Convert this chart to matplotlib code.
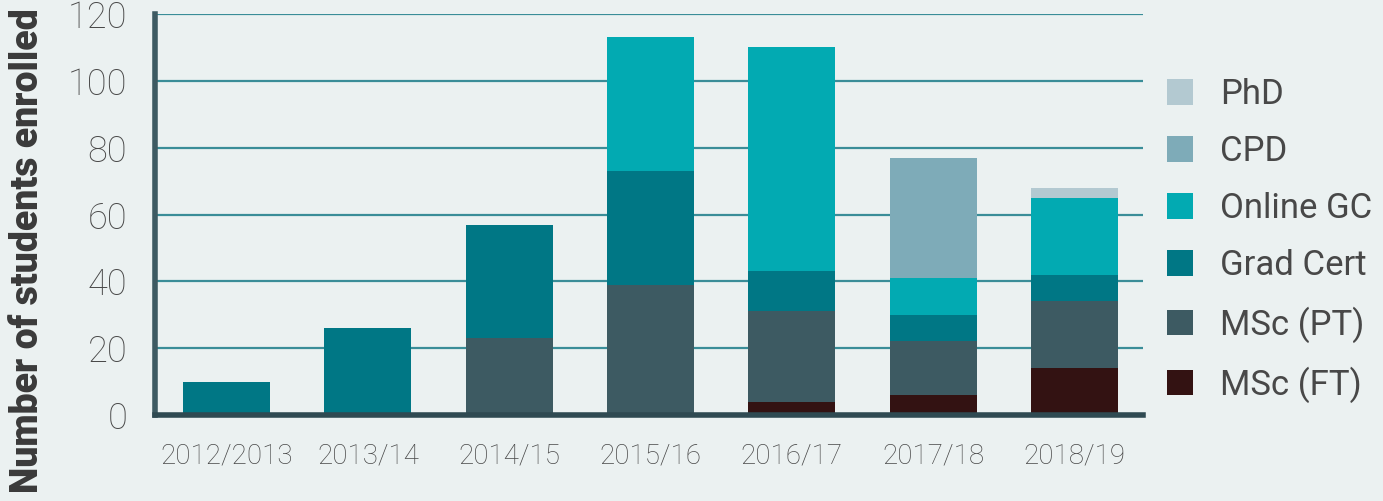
import matplotlib
matplotlib.use('Agg')
import matplotlib.pyplot as plt
import numpy as np

# data
years = ['2012/2013', '2013/14', '2014/15', '2015/16', '2016/17', '2017/18', '2018/19']
msc_ft = [0, 0, 0, 0, 4, 6, 14]
msc_pt = [0, 0, 23, 39, 27, 16, 20]
grad_cert = [10, 26, 34, 34, 12, 8, 8]
online_gc = [0, 0, 0, 40, 67, 11, 23]
cpd = [0, 0, 0, 0, 0, 36, 0]
phd = [0, 0, 0, 0, 0, 0, 3]

series_names = ['MSc (FT)', 'MSc (PT)', 'Grad Cert', 'Online GC', 'CPD', 'PhD']
series_vals = [msc_ft, msc_pt, grad_cert, online_gc, cpd, phd]
colors = ['#331212', '#3d5a62', '#007785', '#02aab2', '#7eabb8', '#b3c9d1']

bg = '#ebf1f1'
plt.rcParams['font.family'] = ['Roboto', 'DejaVu Sans']

fig = plt.figure(figsize=(13.83, 5.01), dpi=100, facecolor=bg)
ax = fig.add_axes([0.1121, 0.1717, 0.8265 - 0.1121, 0.972 - 0.1717])
ax.set_facecolor(bg)

x = np.arange(len(years))
bottom = np.zeros(len(years))
handles = []
for name, vals, c in zip(series_names, series_vals, colors):
    b = ax.bar(x, vals, 0.615, bottom=bottom, color=c, label=name, zorder=3)
    handles.append(b)
    bottom += np.array(vals)

ax.set_xlim(-0.506, 6.485)
ax.set_ylim(0, 120)
ax.set_yticks(range(0, 121, 20))
ax.yaxis.grid(True, color='#3a8d98', lw=1.6, zorder=1)
ax.set_axisbelow(True)

for s in ['top', 'right']:
    ax.spines[s].set_visible(False)
ax.spines['left'].set_color('#3d5a62')
ax.spines['left'].set_linewidth(4)
ax.spines['bottom'].set_color('#2f4a52')
ax.spines['bottom'].set_linewidth(4)
ax.spines['bottom'].set_zorder(4)

ax.set_xticks(x)
ax.set_xticklabels(years)
ax.tick_params(axis='x', length=0, pad=20, labelsize=20, labelcolor='#484848')
ax.tick_params(axis='y', length=0, pad=20, labelsize=26, labelcolor='#484848')
for t in ax.get_yticklabels() + ax.get_xticklabels():
    t.set_fontweight('light')

fig.text(0.02, 0.5, 'Number of students enrolled', rotation=90, va='center', ha='center',
         fontsize=27, fontweight='black', color='#3a3a3a')

leg = ax.legend(handles[::-1], series_names[::-1], loc='center left',
                bbox_to_anchor=(1.0, 0.435), frameon=False, fontsize=25,
                handlelength=0.75, handleheight=0.75, handletextpad=0.78,
                labelspacing=0.69, labelcolor='#484848', borderaxespad=0.3)

fig.savefig('out.png', dpi=100, facecolor=bg)
